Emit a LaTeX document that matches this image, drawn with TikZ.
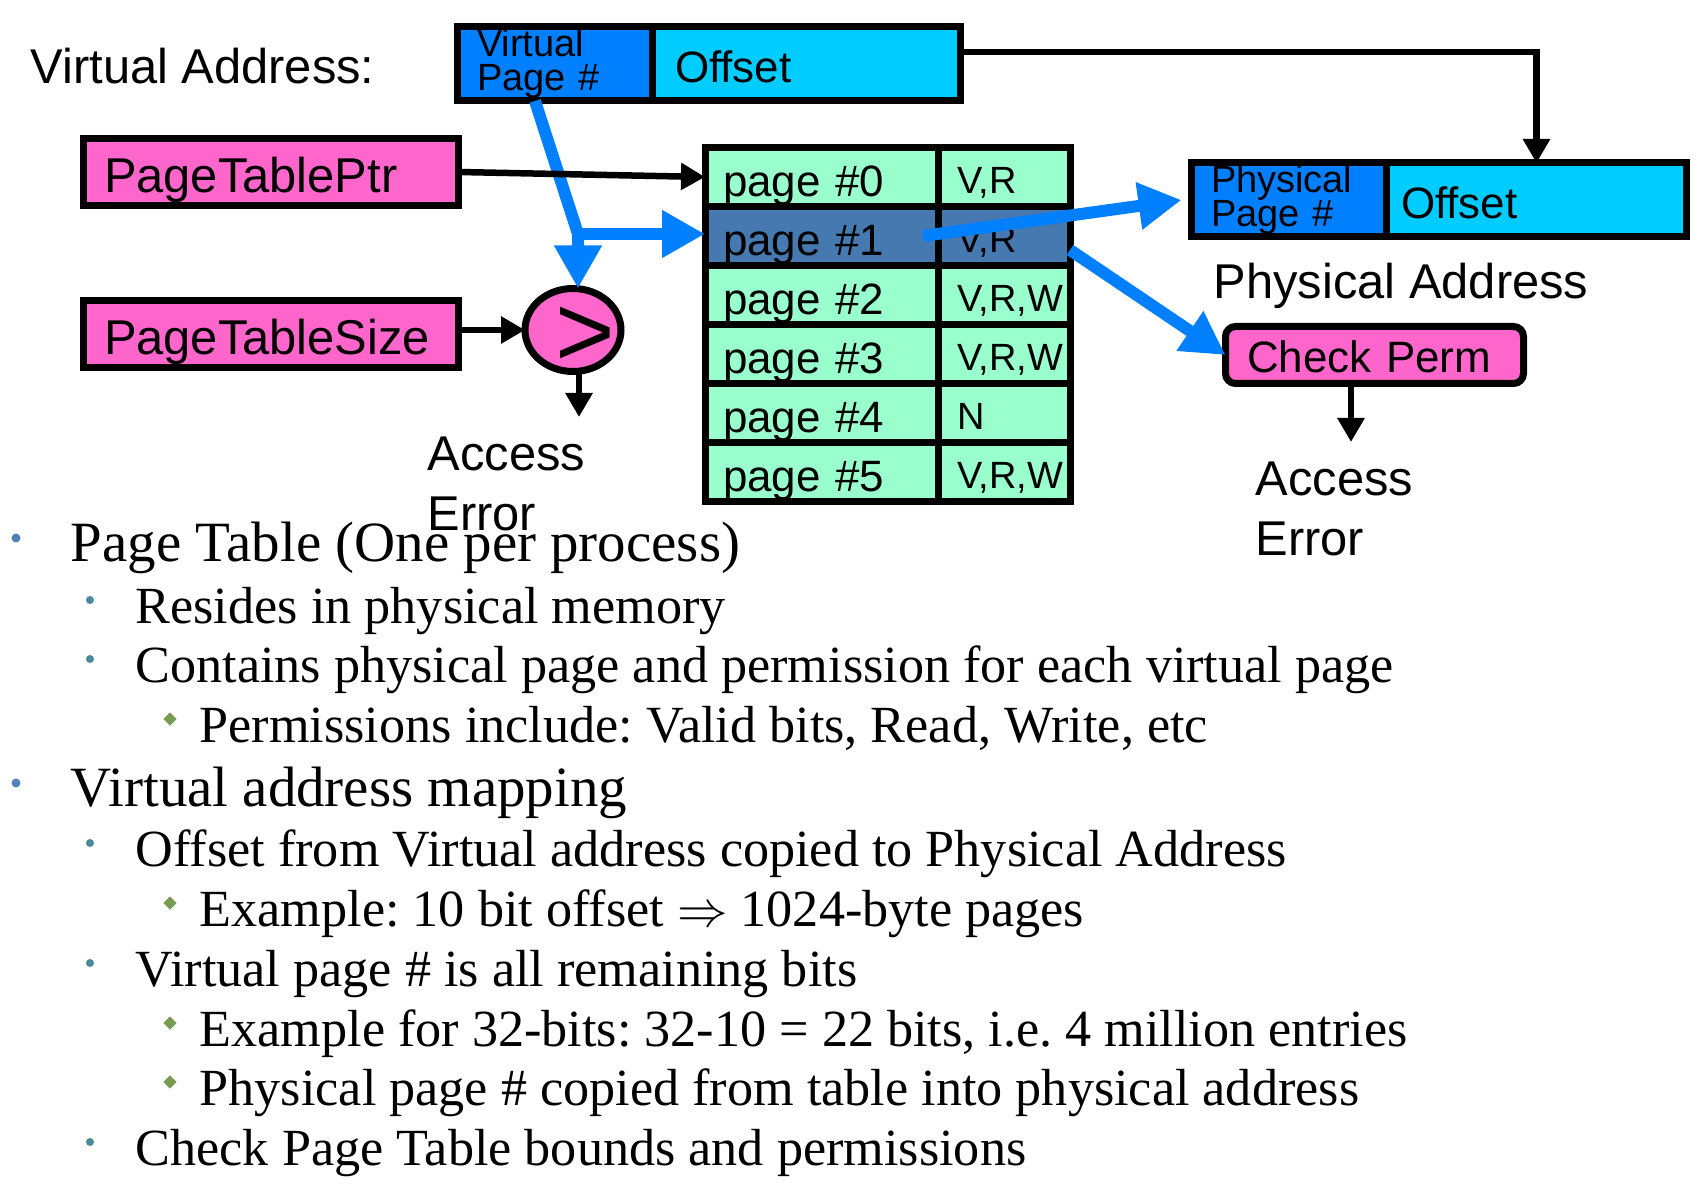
\documentclass[tikz,border=0pt]{standalone}
\usepackage{fontspec}
\setmainfont{Liberation Sans}
\newfontfamily\listfont{Liberation Serif}
\usetikzlibrary{arrows.meta,positioning,shapes.geometric}
\frenchspacing

\definecolor{vpnblue}{RGB}{0,128,255}
\definecolor{offcyan}{RGB}{0,204,255}
\definecolor{regpink}{RGB}{255,102,204}
\definecolor{ptemint}{RGB}{153,255,204}
\definecolor{ptesel}{RGB}{70,121,176}
\definecolor{dotblue}{RGB}{79,129,189}
\definecolor{dotteal}{RGB}{75,138,155}
\definecolor{dotgreen}{RGB}{119,155,80}

\tikzset{
  field/.style = {draw, line width=0.7mm, inner sep=0pt, outer sep=0pt, align=left},
  reg/.style   = {field, fill=regpink, minimum width=37.5mm, minimum height=6.7mm,
                  text width=33.4mm, text height=4.2mm, text depth=0pt,
                  font=\fontsize{13.9pt}{16pt}\selectfont},
  vpage/.style = {field, fill=vpnblue, minimum width=19.5mm, minimum height=7.4mm,
                  text width=15.6mm, font=\fontsize{10.8pt}{9.7pt}\selectfont},
  voffs/.style = {field, fill=offcyan, minimum height=7.4mm, text height=3.8mm, text depth=0pt,
                  font=\fontsize{12.5pt}{14pt}\selectfont},
  pte/.style   = {field, minimum height=5.9mm, text height=4mm, text depth=0pt},
  link/.style  = {-{Triangle[length=2.4mm,width=2.6mm]}, line width=0.65mm},
  vflow/.style = {-{Triangle[length=4.3mm,width=4.5mm]}, line width=1.2mm, vpnblue},
  big/.style   = {inner sep=0pt, align=left, font=\fontsize{13.9pt}{17.1pt}\selectfont},
  lvA/.style   = {anchor=base west, inner sep=0pt, font=\listfont\fontsize{16.2pt}{18pt}\selectfont},
  lvB/.style   = {anchor=base west, inner sep=0pt, font=\listfont\fontsize{14.85pt}{17pt}\selectfont},
  dotA/.style  = {circle, fill=dotblue, inner sep=0pt, minimum size=0.9mm},
  dotB/.style  = {circle, fill=dotteal, inner sep=0pt, minimum size=0.8mm},
  dotC/.style  = {diamond, fill=dotgreen, inner sep=0pt, minimum size=1.4mm},
}

\begin{document}
\begin{tikzpicture}[x=0.1mm,y=-0.1mm]
  \useasboundingbox (0,0) rectangle (1706,1189);

  % virtual address
  \node[big, anchor=base west] (valbl) at (30,84) {Virtual Address:};
  \node[vpage] (vpn) at (555,64) {Virtual\\Page \#};
  \node[voffs, minimum width=30.8mm, text width=26.3mm, right=0pt of vpn] (voff) {Offset};

  \node[reg] (tblptr) at (271,172) {PageTablePtr};
  \node[reg] (tblsize) at (271,334) {PageTableSize};
  \node[field, ellipse, fill=regpink, minimum width=9.6mm, minimum height=8.3mm] (cmp) at (573,330) {};
  \node[inner sep=0pt, font=\fontsize{29pt}{29pt}\selectfont] (gt) at (585,337) {>};

  % page table
  \foreach \i/\perm/\shade in {0/{V,R}/ptemint, 1/{V,R}/ptesel, 2/{V,R,W}/ptemint,
                               3/{V,R,W}/ptemint, 4/N/ptemint, 5/{V,R,W}/ptemint} {
    \node[pte, fill=\shade, minimum width=23.3mm, text width=19.7mm,
          font=\fontsize{12.5pt}{14pt}\selectfont] (pg\i) at (821.5,177+59*\i) {page \#\i};
    \node[pte, fill=\shade, minimum width=13.2mm, text width=9.4mm, text height=3.4mm,
          font=\fontsize{10.8pt}{12pt}\selectfont, right=0pt of pg\i] (pm\i) {\perm};
  }

  % physical address
  \node[vpage] (ppn) at (1289,200) {Physical\\Page \#};
  \node[voffs, minimum width=30mm, text width=27.1mm, right=0pt of ppn] (poff) {Offset};
  \node[big, anchor=base west] (palbl) at (1213,299) {Physical Address};
  \node[field, fill=regpink, rounded corners=1mm, minimum width=29.8mm, minimum height=5.7mm,
        text width=25.5mm, text height=3.6mm, text depth=0pt,
        font=\fontsize{12.5pt}{14pt}\selectfont] (chk) at (1374.5,355) {Check Perm};

  \node[big, anchor=north west] (err1) at (427,436) {Access\\Error};
  \node[big, anchor=north west] (err2) at (1255,461) {Access\\Error};
  \coordinate (fork) at (578,234);
  \coordinate (e1) at (579,417);
  \coordinate (e2) at (1351,442);

  \draw[vflow] ([xshift=-2mm]vpn.south) -- (fork) -- (fork |- cmp.north);
  \draw[vflow] (fork) -- (fork -| pg1.west);
  \draw[vflow] ([xshift=-1.5mm]pg1.east) -- ([xshift=-1mm]ppn.west);
  \draw[vflow] ([yshift=-1.4mm]pm1.east) -- (chk.west);

  \draw[link] (tblptr.east) -- (pg0.west);
  \draw[link] (tblsize.east |- cmp.west) -- (cmp.west);
  \draw[link] (cmp.south -| e1) -- (e1);
  \draw[link] ([yshift=1.2mm]voff.east) -| (poff.north);
  \draw[link] (chk.south -| e2) -- (e2);

  % bullets
  \node[dotA] (d1) at (16,538) {};
  \node[lvA] (t1) at (70,562) {Page Table (One per process)};
  \node[dotB] (d2) at (90,600) {};
  \node[lvB] (t2) at (135,624) {Resides in physical memory};
  \node[dotB] (d3) at (90,659) {};
  \node[lvB] (t3) at (135,683) {Contains physical page and permission for each virtual page};
  \node[dotC] (d4) at (170,719) {};
  \node[lvB] (t4) at (199,743) {Permissions include: Valid bits, Read, Write, etc};
  \node[dotA] (d5) at (16,783) {};
  \node[lvA] (t5) at (70,807) {Virtual address mapping};
  \node[dotB] (d6) at (90,843) {};
  \node[lvB] (t6) at (135,867) {Offset from Virtual address copied to Physical Address};
  \node[dotC] (d7) at (170,903) {};
  \node[lvB] (t7) at (199,927) {Example: 10 bit offset $\Rightarrow$ 1024-byte pages};
  \node[dotB] (d8) at (90,963) {};
  \node[lvB] (t8) at (135,987) {Virtual page \# is all remaining bits};
  \node[dotC] (d9) at (170,1023) {};
  \node[lvB] (t9) at (199,1047) {Example for 32-bits: 32-10 = 22 bits, i.e. 4 million entries};
  \node[dotC] (d10) at (170,1082) {};
  \node[lvB] (t10) at (199,1106) {Physical page \# copied from table into physical address};
  \node[dotB] (d11) at (90,1142) {};
  \node[lvB] (t11) at (135,1166) {Check Page Table bounds and permissions};
\end{tikzpicture}
\end{document}
